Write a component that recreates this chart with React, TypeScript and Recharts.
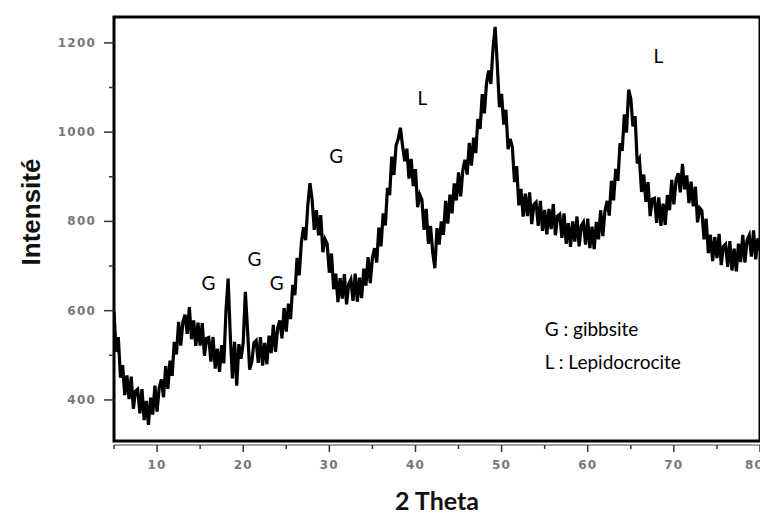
import React from "react";
import {
	LineChart,
	Line,
	XAxis,
	YAxis,
	ReferenceArea,
	ReferenceDot,
} from "recharts";

// intensity, one value every 0.25 deg from 5 to 80
const intensity = [
	598, 508, 541, 450, 478, 411, 455, 402, 452, 380, 420, 424, 370, 424, 355, 398,
	344, 405, 367, 432, 374, 428, 446, 406, 476, 425, 488, 454, 530, 502, 575, 522,
	575, 591, 548, 608, 536, 578, 521, 573, 522, 572, 499, 538, 540, 486, 541, 470,
	515, 463, 523, 482, 600, 672, 545, 448, 530, 432, 525, 492, 528, 642, 558, 468,
	486, 528, 533, 483, 541, 477, 528, 480, 544, 505, 568, 508, 561, 578, 538, 606,
	553, 616, 581, 658, 635, 718, 679, 752, 787, 758, 836, 886, 848, 781, 825, 769,
	814, 731, 760, 750, 685, 728, 648, 683, 619, 673, 627, 682, 614, 660, 670, 622,
	683, 620, 674, 628, 694, 656, 720, 662, 718, 740, 708, 786, 744, 818, 791, 875,
	859, 945, 904, 970, 985, 1010, 970, 935, 963, 896, 940, 879, 917, 832, 860, 848,
	781, 828, 750, 790, 731, 695, 785, 748, 800, 770, 846, 795, 860, 818, 885, 847,
	910, 856, 915, 938, 905, 976, 925, 988, 953, 1030, 1007, 1085, 1042, 1110, 1138, 1108,
	1187, 1236, 1150, 1056, 1086, 1017, 1050, 962, 985, 966, 888, 924, 836, 873, 811, 862,
	812, 865, 794, 838, 843, 790, 846, 779, 826, 771, 828, 783, 839, 769, 812, 816,
	763, 818, 750, 796, 743, 800, 755, 811, 744, 790, 798, 748, 806, 740, 788, 738,
	799, 760, 825, 767, 823, 846, 813, 891, 847, 918, 891, 975, 958, 1040, 999, 1095,
	1075, 1013, 1036, 930, 940, 866, 905, 844, 888, 812, 850, 852, 797, 854, 790, 840,
	792, 859, 825, 893, 838, 892, 908, 865, 929, 872, 903, 841, 889, 834, 878, 798,
	830, 824, 760, 806, 729, 770, 711, 765, 718, 772, 702, 744, 749, 698, 756, 690,
	739, 688, 750, 709, 770, 708, 758, 769, 721, 780, 715, 762, 735,
];
const theta = intensity.map((_, i) => 5 + i * 0.25);

const xTicks = [5, 10, 15, 20, 25, 30, 35, 40, 45, 50, 55, 60, 65, 70, 75, 80];
const yTicks = [400, 500, 600, 700, 800, 900, 1000, 1100, 1200];

// peak labels
const peakTheta = [15.97, 21.3, 23.9, 30.8, 40.8, 68.2];
const peakValue = [662, 716, 662, 945, 1075, 1169];
const peakText = ["G", "G", "G", "G", "L", "L"];

// key in the lower right
const keyText = ["G : gibbsite", "L : Lepidocrocite"];
const keyValue = [559, 485];

const data = theta.map((t, i) => ({ theta: t, intensity: intensity[i] }));

const tickFont = "'DejaVu Sans', sans-serif";
const tickColor = "#777";

const XTick = (props: any) => {
	const { x, y, payload } = props;
	const major = payload.value % 10 === 0;
	const last = payload.value === 80;
	return (
		<g>
			{payload.value > 5 && (
				<line x1={x - 43.07} x2={x} y1={y + 4} y2={y + 4} stroke='#444' strokeWidth={1} />
			)}
			<line x1={x} x2={x} y1={y + 4} y2={y + (major ? 11 : 8)} stroke='#333' strokeWidth={1.5} />
			{major && (
				<text
					x={last ? x + 4 : x}
					y={y + 28}
					textAnchor={last ? "end" : "middle"}
					fill={tickColor}
					fontSize={12}
					fontWeight='bold'
					letterSpacing={1.2}
					fontFamily={tickFont}>
					{payload.value}
				</text>
			)}
		</g>
	);
};

const YTick = (props: any) => {
	const { x, y, payload } = props;
	const major = payload.value % 200 === 0;
	return (
		<g>
			<line x1={x - (major ? 10 : 5)} x2={x} y1={y} y2={y} stroke='#333' strokeWidth={1.5} />
			{major && (
				<text
					x={x - 18}
					y={y + 4}
					textAnchor='end'
					fill={tickColor}
					fontSize={12}
					fontWeight='bold'
					letterSpacing={1.2}
					fontFamily={tickFont}>
					{payload.value}
				</text>
			)}
		</g>
	);
};

const YTitle = () => (
	<text
		x={0}
		y={0}
		transform='translate(32 204) rotate(-90)'
		textAnchor='middle'
		fontSize={26}
		fontWeight='bold'
		fontFamily="'Liberation Sans', Arial, sans-serif"
		fill='#111'>
		Intensité
	</text>
);

export default function App() {
	return (
		<LineChart
			width={760}
			height={510}
			data={data}
			margin={{ top: 9, right: 8, bottom: 0, left: 0 }}>
			<XAxis
				dataKey='theta'
				type='number'
				domain={[5, 80]}
				ticks={xTicks}
				allowDataOverflow
				axisLine={false}
				tickLine={false}
				tickSize={0}
				tickMargin={0}
				height={77}
				tick={<XTick />}
				label={{
					value: "2 Theta",
					position: "insideBottom",
					offset: 8,
					fill: "#111",
					fontSize: 25,
					fontWeight: "bold",
					fontFamily: "Lato, sans-serif",
				}}
			/>
			<YAxis
				type='number'
				domain={[308, 1258]}
				ticks={yTicks}
				allowDataOverflow
				axisLine={false}
				tickLine={false}
				tickSize={0}
				tickMargin={0}
				width={106}
				tick={<YTick />}
				label={<YTitle />}
			/>
			<Line
				type='linear'
				dataKey='intensity'
				stroke='#000'
				strokeWidth={3.2}
				dot={false}
				isAnimationActive={false}
			/>
			<ReferenceArea
				x1={5}
				x2={80}
				y1={308}
				y2={1258}
				fill='none'
				stroke='#000'
				strokeWidth={3}
				ifOverflow='visible'
			/>
			{peakText.map((t, i) => (
				<ReferenceDot
					key={"p" + i}
					x={peakTheta[i]}
					y={peakValue[i]}
					r={0}
					fill='none'
					stroke='none'
					label={{
						value: t,
						position: "center",
						fill: "#000",
						fontSize: 19,
						fontFamily: "Lato, sans-serif",
					}}
				/>
			))}
			{keyText.map((t, i) => (
				<ReferenceDot
					key={"k" + i}
					x={55}
					y={keyValue[i]}
					r={0}
					fill='none'
					stroke='none'
					label={{
						value: t,
						position: "right",
						offset: 0,
						fill: "#000",
						fontSize: 19,
						fontFamily: "Lato, sans-serif",
					}}
				/>
			))}
		</LineChart>
	);
}
